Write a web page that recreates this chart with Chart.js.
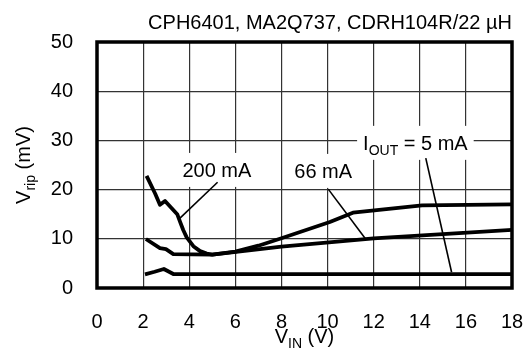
<!DOCTYPE html>
<html>
<head>
<meta charset="utf-8">
<script src="https://cdn.jsdelivr.net/npm/chart.js@4/dist/chart.umd.min.js"></script>
<style>
html, body { margin: 0; background: #fff; }
#wrap { width: 524px; height: 354px; }
</style>
</head>
<body>
<div id="wrap"><canvas id="myChart"></canvas></div>
<script>
// V_IN (V) / V_rip (mV)
const vin200 = [2.15, 2.52, 2.73, 2.95, 3.24, 3.48, 3.6, 3.74, 3.89, 4.18, 4.47, 4.76, 5.0, 6.0, 7.0, 8.0, 10.1, 11.1, 14.1, 18];
const rip200 = [22.8, 19.2, 16.9, 17.7, 16.2, 15.0, 13.5, 11.8, 10.3, 8.5, 7.5, 7.0, 6.8, 7.4, 8.6, 10.1, 13.4, 15.3, 16.8, 17.0];

const vin66 = [2.12, 2.73, 2.99, 3.31, 5.0, 8, 12, 18];
const rip66 = [9.96, 8.1, 7.9, 6.9, 6.8, 8.4, 10.1, 11.8];

const vin5 = [2.08, 2.5, 2.9, 3.31, 18];
const rip5 = [2.78, 3.3, 3.86, 2.84, 2.84];

// leader lines from labels to curves
const lead200 = [[5.23, 21.5], [3.6, 14.2]];
const lead66 = [[10.03, 20.1], [11.66, 9.9]];
const lead5 = [[14.26, 26.4], [15.38, 3.2]];

// label texts and anchor points (data units)
const labelParts = [
  [{ t: '200 mA' }],
  [{ t: '66 mA' }],
  [{ t: 'I' }, { t: 'OUT', sub: true }, { t: ' = 5 mA' }]
];
const labelAt = [[5.2, 24.0], [9.81, 23.8], [13.81, 29.5]];

const xTicks = [0, 2, 4, 6, 8, 10, 12, 14, 16, 18];
const yTicks = [0, 10, 20, 30, 40, 50];

const titleText = 'CPH6401, MA2Q737, CDRH104R/22 \u00B5H';
const xTitle = [{ t: 'V' }, { t: 'IN', sub: true }, { t: ' (V)' }];
const yTitle = [{ t: 'V' }, { t: 'rip', sub: true }, { t: ' (mV)' }];

const FONT = '"Liberation Sans", Arial, Helvetica, sans-serif';

function pts(xs, ys) { return xs.map((x, i) => ({ x: x, y: ys[i] })); }
function leadPts(l) { return l.map(p => ({ x: p[0], y: p[1] })); }

function richWidth(ctx, parts) {
  let w = 0;
  parts.forEach(p => {
    ctx.font = (p.sub ? '14px ' : '20px ') + FONT;
    w += ctx.measureText(p.t).width;
  });
  return w;
}
function drawRich(ctx, parts, cx, baseY) {
  let x = cx - richWidth(ctx, parts) / 2;
  ctx.textAlign = 'left';
  ctx.textBaseline = 'alphabetic';
  parts.forEach(p => {
    ctx.font = (p.sub ? '14px ' : '20px ') + FONT;
    ctx.fillText(p.t, x, baseY + (p.sub ? 5 : 0));
    x += ctx.measureText(p.t).width;
  });
}

const extras = {
  id: 'extras',
  beforeDatasetsDraw(chart) {
    const ctx = chart.ctx, xs = chart.scales.x, ys = chart.scales.y;
    ctx.save();
    labelParts.forEach((parts, i) => {
      const cx = xs.getPixelForValue(labelAt[i][0]);
      const cy = ys.getPixelForValue(labelAt[i][1]);
      const w = richWidth(ctx, parts) + 12;
      ctx.fillStyle = '#fff';
      ctx.fillRect(cx - w / 2, cy - 17, w, 34);
      ctx.fillStyle = '#000';
      drawRich(ctx, parts, cx, cy + 7);
    });
    ctx.restore();
  },
  afterDraw(chart) {
    const ctx = chart.ctx, a = chart.chartArea;
    ctx.save();
    ctx.strokeStyle = '#000';
    ctx.lineWidth = 3.5;
    ctx.strokeRect(a.left, a.top, a.right - a.left, a.bottom - a.top);
    ctx.fillStyle = '#000';
    ctx.font = '20px ' + FONT;
    ctx.textAlign = 'right';
    ctx.textBaseline = 'alphabetic';
    ctx.fillText(titleText, a.right, 29);
    drawRich(ctx, xTitle, (a.left + a.right) / 2, 343);
    ctx.translate(29.5, (a.top + a.bottom) / 2);
    ctx.rotate(-Math.PI / 2);
    drawRich(ctx, yTitle, 0, 0);
    ctx.restore();
  }
};

function curve(data, w) {
  return { data: data, borderColor: '#000', borderWidth: w, pointRadius: 0, fill: false, tension: 0, borderJoinStyle: 'round' };
}

new Chart(document.getElementById('myChart'), {
  type: 'line',
  data: {
    datasets: [
      curve(pts(vin200, rip200), 3.8),
      curve(pts(vin66, rip66), 3.8),
      curve(pts(vin5, rip5), 3.8),
      curve(leadPts(lead200), 1.6),
      curve(leadPts(lead66), 1.6),
      curve(leadPts(lead5), 1.6)
    ]
  },
  options: {
    responsive: true,
    maintainAspectRatio: false,
    animation: false,
    layout: { padding: { top: 42, right: 12, bottom: 0, left: 0 } },
    plugins: { legend: { display: false }, tooltip: { enabled: false } },
    scales: {
      x: {
        type: 'linear', min: 0, max: 18,
        afterBuildTicks: s => { s.ticks = xTicks.map(v => ({ value: v })); },
        afterFit: s => { s.height = 66; s.paddingLeft = 0; s.paddingRight = 0; },
        grid: { color: '#333', lineWidth: 1.2, drawTicks: false },
        border: { display: false },
        ticks: { color: '#000', padding: 22, maxRotation: 0, font: { family: FONT, size: 20 } }
      },
      y: {
        type: 'linear', min: 0, max: 50,
        afterBuildTicks: s => { s.ticks = yTicks.map(v => ({ value: v })); },
        afterFit: s => { s.width = 97; s.paddingTop = 0; s.paddingBottom = 0; },
        grid: { color: '#333', lineWidth: 1.2, drawTicks: false },
        border: { display: false },
        ticks: { color: '#000', padding: 24, font: { family: FONT, size: 20 } }
      }
    }
  },
  plugins: [extras]
});
</script>
</body>
</html>
